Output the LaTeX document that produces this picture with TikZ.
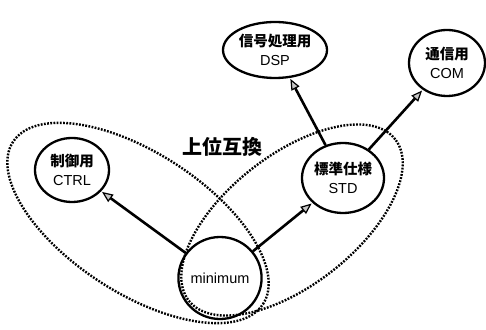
\documentclass[tikz,border=0pt]{standalone}
\usepackage{fontspec}
\setmainfont{Liberation Sans}
\newfontfamily\cjk{Noto Sans CJK JP}
\usetikzlibrary{arrows.meta,shapes.geometric}
\begin{document}
\begin{tikzpicture}[x=1pt,y=1pt,
  unit/.style={ellipse, draw, line width=2.3pt, align=center, inner sep=0pt, font=\fontsize{14.5}{19}\selectfont},
  dep/.style={line width=2.6pt, -{Triangle[length=11pt,width=9pt,fill=gray!45,line width=1.2pt]}, shorten >=1pt},
  group/.style={ellipse, draw, line width=2.4pt, dash pattern=on 1.8pt off 1.4pt, inner sep=0pt}]
\useasboundingbox (0,0) rectangle (486,329);
% groups drawn first
\node[group, minimum width=298pt, minimum height=140pt, rotate=-33] (lower) at (138,106) {};
\node[group, minimum width=262pt, minimum height=130pt, rotate=38] (upper) at (292,109) {};
\node(compat) at (222,182) {\fontsize{20}{20}\selectfont\cjk\bfseries 上位互換};
%
\node[unit, minimum width=104pt, minimum height=56pt](dsp) at (275,279) {{\cjk\bfseries 信号処理用}\\DSP};
\node[unit, minimum width=76pt, minimum height=66pt](com) at (447,266) {{\cjk\bfseries 通信用}\\COM};
\node[unit, minimum width=74pt, minimum height=64pt](ctrl) at (72,159) {{\cjk\bfseries 制御用}\\CTRL};
\node[unit, minimum width=80pt, minimum height=70pt](std) at (343,151) {{\cjk\bfseries 標準仕様}\\STD};
\node[unit, minimum width=80pt, minimum height=82pt](mini) at (220,51) {minimum};
%
\draw[dep](mini) -- (ctrl);
\draw[dep](mini) -- (std);
\draw[dep](std) -- (dsp);
\draw[dep](std) -- (com);
\end{tikzpicture}
\end{document}
